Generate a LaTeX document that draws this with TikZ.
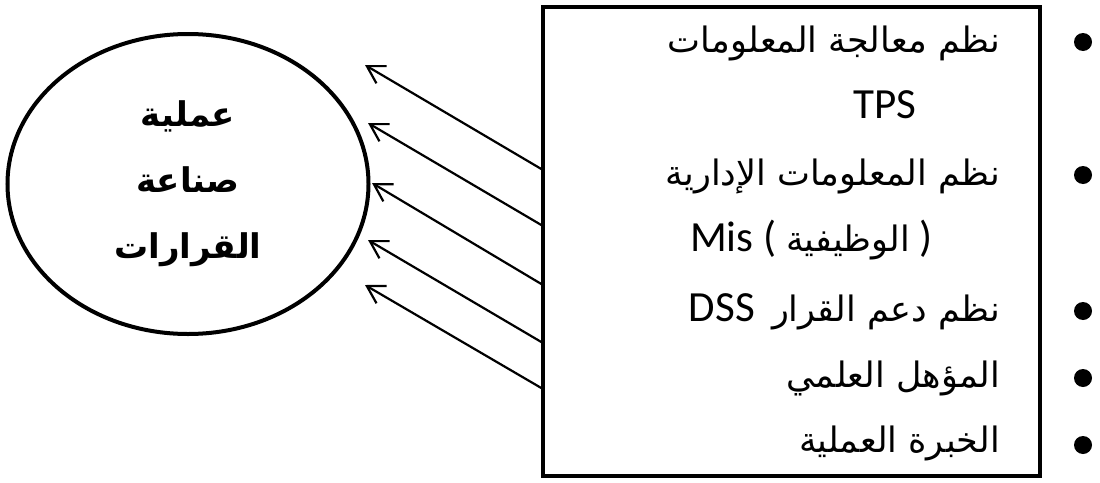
\documentclass[tikz,border=0pt]{standalone}
\usepackage{fontspec}
\setmainfont{Carlito}
\newfontfamily\arabicfont[Script=Arabic]{DejaVu Sans}
\TeXXeTstate=1
\usetikzlibrary{arrows.meta}
\usetikzlibrary{positioning}
\usetikzlibrary{shapes.geometric}

\begin{document}
\begin{tikzpicture}[x=1pt, y=-1pt,
    % Stil für die Ellipse
    proc/.style={ellipse, draw, line width=4pt, minimum width=361pt, minimum height=300pt, inner sep=0pt, align=center,
      font=\arabicfont\bfseries\fontsize{34}{66}\selectfont},
    % Stil für den Kasten
    lst/.style={rectangle, draw, line width=4.5pt, minimum width=497pt, minimum height=469pt, inner sep=0pt},
    % Stil für die Zeilen
    itm/.style={inner sep=0pt, font=\fontsize{43}{48}\selectfont},
    ar/.style={font=\arabicfont\fontsize{35}{40}\selectfont},
    bul/.style={circle, fill, inner sep=0pt, minimum size=18pt},
    pf/.style={-{Straight Barb[length=17pt, width=20pt]}, line width=2.2pt}]
    \useasboundingbox (0,0) rectangle (1100,482);

    % Knoten
    \node[proc] (proc) at (188,184) {\beginR عملية\endR\\ \beginR صناعة\endR\\ \beginR القرارات\endR};
    \node[lst] (box) at (791.5,241.5) {};

    \node[itm, ar, anchor=base east] (l1) at (1000,52) {\beginR نظم معالجة المعلومات\endR};
    \node[itm, anchor=base] (l2) at (885,118) {TPS};
    \node[itm, ar, anchor=base east] (l3) at (1000,185) {\beginR نظم المعلومات الإدارية\endR};
    \node[itm, anchor=base west] (l4) at (690,251) {Mis ( {\arabicfont\fontsize{35}{40}\selectfont\beginR الوظيفية\endR} )};
    \node[itm, anchor=base east] (l5) at (1000,321) {DSS\hspace{0.4em}{\arabicfont\fontsize{35}{40}\selectfont\beginR نظم دعم القرار\endR}};
    \node[itm, ar, anchor=base east] (l6) at (1000,387) {\beginR المؤهل العلمي\endR};
    \node[itm, ar, anchor=base east] (l7) at (1000,452) {\beginR الخبرة العملية\endR};

    \node[bul] (b1) at (1083,42) {};
    \node[bul] (b3) at (1083,175) {};
    \node[bul] (b5) at (1083,311) {};
    \node[bul] (b6) at (1083,378) {};
    \node[bul] (b7) at (1083,445) {};

    % Kanten
    \foreach \i/\ya/\xb/\yb in {1/170/365/65, 2/226/368/123, 3/285/372/183, 4/343/368/240, 5/389/365/285}{
      \coordinate (a\i) at (543,\ya);
      \coordinate (e\i) at (\xb,\yb);
      \draw[pf] (a\i) -- (e\i);
    }
\end{tikzpicture}
\end{document}
